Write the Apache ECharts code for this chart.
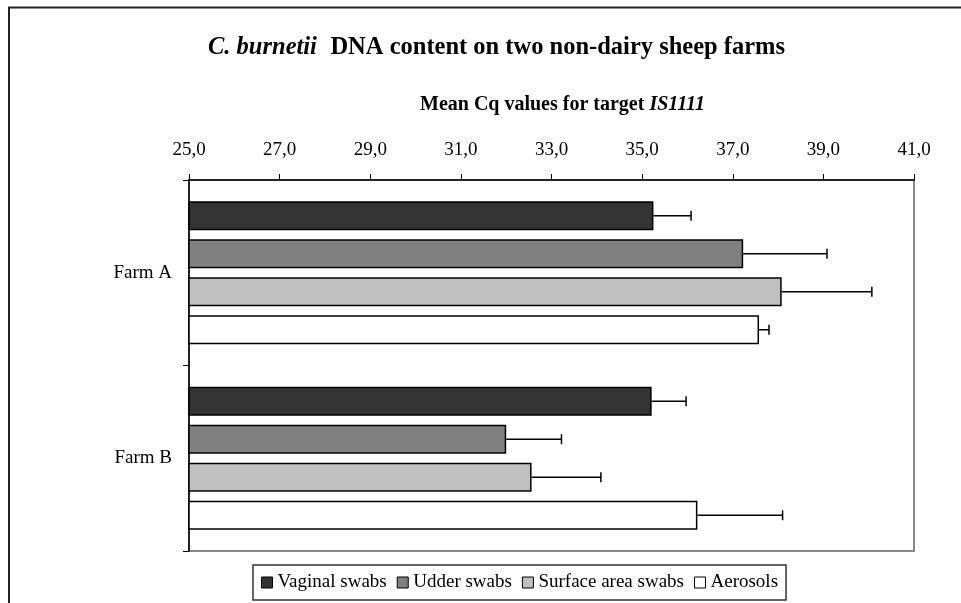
<!DOCTYPE html>
<html>
<head>
<meta charset="utf-8">
<script src="https://cdn.jsdelivr.net/npm/echarts@6/dist/echarts.min.js"></script>
<style>
  html, body { margin: 0; padding: 0; background: #fff; }
  #chart { width: 961px; height: 603px; }
</style>
</head>
<body>
<div id="chart"></div>
<script>
const categories = ['Farm A', 'Farm B']
const seriesNames = ['Vaginal swabs', 'Udder swabs', 'Surface area swabs', 'Aerosols']

// mean Cq values per farm
const vaginal = [35.25, 35.21]
const udder = [37.23, 32.0]
const surface = [38.08, 32.56]
const aerosols = [37.58, 36.22]

// error bar lengths (upper side only)
const vaginalErr = [0.83, 0.76]
const udderErr = [1.85, 1.22]
const surfaceErr = [1.99, 1.53]
const aerosolsErr = [0.22, 1.88]

const xTicks = { min: 25, max: 41, interval: 2 }

const values = [vaginal, udder, surface, aerosols]
const errors = [vaginalErr, udderErr, surfaceErr, aerosolsErr]
const colors = ['#333333', '#808080', '#c0c0c0', '#ffffff']

const FONT = 'Liberation Serif, Times New Roman, serif'
const BAR_W = 29
const BAR_GAP = 9
const offsets = [0, 1, 2, 3].map(i => (i - 1.5) * (BAR_W + BAR_GAP))

const chart = echarts.init(document.getElementById('chart'))

const barSeries = seriesNames.map((name, i) => ({
  name,
  type: 'bar',
  data: values[i],
  barWidth: BAR_W,
  barGap: (BAR_GAP / BAR_W * 100).toFixed(1) + '%',
  itemStyle: {
    color: colors[i],
    borderColor: '#000',
    borderWidth: 1.5,
  },
  z: 2,
}))

const errSeries = seriesNames.map((name, i) => ({
  name: 'err' + i,
  type: 'custom',
  data: values[i].map((v, k) => [v, k, errors[i][k]]),
  encode: { x: 0, y: 1 },
  z: 5,
  renderItem: (params, api) => {
    const start = api.coord([api.value(0), api.value(1)])
    const end = api.coord([api.value(0) + api.value(2), api.value(1)])
    const y = start[1] + offsets[i]
    const style = { stroke: '#000', lineWidth: 1.5 }
    return {
      type: 'group',
      children: [
        { type: 'line', shape: { x1: start[0], y1: y, x2: end[0], y2: y }, style },
        { type: 'line', shape: { x1: end[0], y1: y - 5, x2: end[0], y2: y + 5 }, style },
      ],
    }
  },
}))

const option = {
  animation: false,
  backgroundColor: '#fff',
  textStyle: { fontFamily: FONT, color: '#000' },
  title: [
    {
      text: '{i|C. burnetii}   {b|DNA content on two non-dairy sheep farms}',
      left: 208,
      top: 35,
      padding: 0,
      textStyle: {
        rich: {
          i: { fontFamily: FONT, fontSize: 24.5, fontWeight: 'bold', fontStyle: 'italic', color: '#000' },
          b: { fontFamily: FONT, fontSize: 24.5, fontWeight: 'bold', color: '#000' },
        },
      },
    },
    {
      text: '{b|Mean Cq values for target }{i|IS1111}',
      left: 420,
      top: 95,
      padding: 0,
      textStyle: {
        rich: {
          b: { fontFamily: FONT, fontSize: 20, fontWeight: 'bold', color: '#000' },
          i: { fontFamily: FONT, fontSize: 20, fontWeight: 'bold', fontStyle: 'italic', color: '#000' },
        },
      },
    },
  ],
  graphic: [
    {
      type: 'rect',
      shape: { x: 9, y: 7.5, width: 1000, height: 700 },
      style: { fill: 'none', stroke: '#222', lineWidth: 2 },
      silent: true,
      z: 0,
    },
  ],
  legend: {
    data: seriesNames,
    left: 253,
    top: 565,
    orient: 'horizontal',
    itemWidth: 11,
    itemHeight: 11,
    itemGap: 10,
    padding: [8, 8, 8, 8],
    borderColor: '#333',
    borderWidth: 1.5,
    borderRadius: 0,
    icon: 'rect',
    textStyle: { fontFamily: FONT, fontSize: 19, color: '#000' },
    itemStyle: { borderColor: '#000', borderWidth: 1 },
  },
  grid: {
    left: 189,
    right: 47,
    top: 180,
    bottom: 52,
    show: true,
    borderColor: '#888',
    borderWidth: 2,
    backgroundColor: '#fff',
  },
  xAxis: {
    type: 'value',
    position: 'top',
    min: xTicks.min,
    max: xTicks.max,
    interval: xTicks.interval,
    axisLine: { show: true, lineStyle: { color: '#000', width: 1.5 } },
    axisTick: { show: true, length: 6, lineStyle: { color: '#000', width: 1 } },
    axisLabel: {
      fontFamily: FONT,
      fontSize: 19,
      color: '#000',
      margin: 20,
      formatter: v => v.toFixed(1).replace('.', ','),
    },
    splitLine: { show: false },
  },
  yAxis: {
    type: 'category',
    data: categories,
    inverse: true,
    axisLine: { show: true, lineStyle: { color: '#000', width: 1.5 } },
    axisTick: { show: true, length: 6, lineStyle: { color: '#000', width: 1 } },
    axisLabel: { fontFamily: FONT, fontSize: 19, color: '#000', margin: 17 },
    splitLine: { show: false },
  },
  series: [...barSeries, ...errSeries],
}

chart.setOption(option)
</script>
</body>
</html>
